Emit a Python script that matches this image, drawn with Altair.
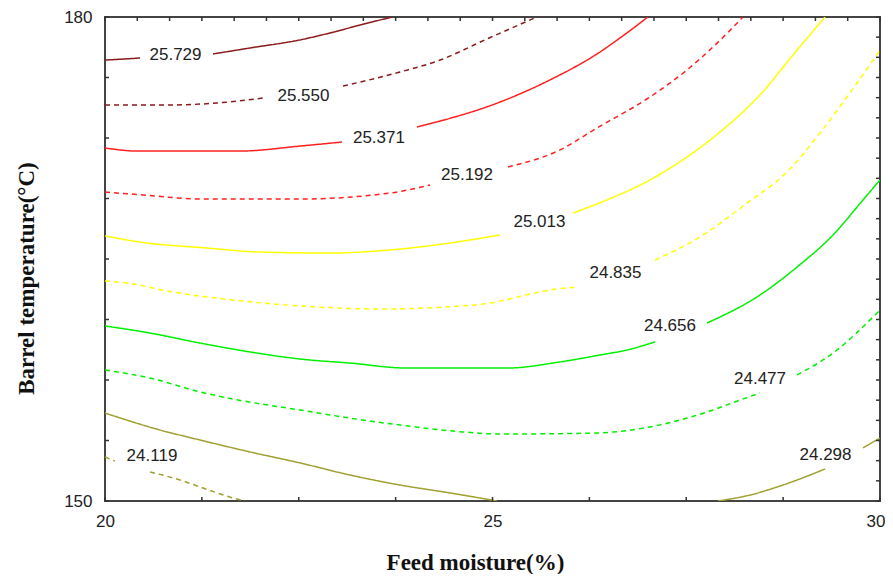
import altair as alt
import pandas as pd

# ---- contour levels, colours, styles ----
levels = ["25.729", "25.550", "25.371", "25.192", "25.013",
          "24.835", "24.656", "24.477", "24.298", "24.119"]
level_colors = ["#8b1a1a", "#8b1a1a", "#ff1f1f", "#ff1f1f", "#ffff00",
                "#ffff00", "#00f000", "#00f000", "#a0a030", "#a0a030"]
level_styles = ["solid", "dashed", "solid", "dashed", "solid",
                "dashed", "solid", "dashed", "solid", "dashed"]

# ---- contour segments (x = feed moisture %, y = barrel temperature) ----
c25729_a_x = [20.0, 20.258, 20.452]
c25729_a_y = [177.33, 177.40, 177.46]
c25729_b_x = [21.394, 21.871, 22.516, 22.903, 23.290, 23.703]
c25729_b_y = [177.71, 178.08, 178.58, 179.01, 179.50, 180.0]

c25550_a_x = [20.0, 20.877, 21.445, 22.039]
c25550_a_y = [174.55, 174.55, 174.67, 174.98]
c25550_b_x = [23.071, 23.806, 24.323, 24.929, 25.574]
c25550_b_y = [175.72, 176.59, 177.33, 178.64, 180.0]

c25371_a_x = [20.0, 20.426, 21.742, 22.516, 23.058]
c25371_a_y = [171.88, 171.69, 171.69, 172.00, 172.25]
c25371_b_x = [24.026, 25.097, 25.742, 26.387, 26.645, 27.006]
c25371_b_y = [173.18, 174.73, 176.10, 177.83, 178.70, 180.0]

c25192_a_x = [20.0, 20.490, 21.226, 22.516, 23.677, 24.194]
c25192_a_y = [169.15, 168.97, 168.72, 168.72, 169.09, 169.59]
c25192_b_x = [25.2, 25.871, 26.348, 27.032, 27.510, 27.845, 28.232]
c25192_b_y = [170.70, 171.76, 173.12, 175.04, 176.72, 178.14, 180.0]

c25013_a_x = [20.0, 20.452, 21.316, 22.0, 22.903, 23.677, 24.452, 25.097]
c25013_a_y = [166.43, 166.05, 165.68, 165.43, 165.37, 165.56, 165.99, 166.49]
c25013_b_x = [26.039, 26.477, 27.032, 27.548, 27.935, 28.452, 28.877, 29.290]
c25013_b_y = [167.85, 168.66, 169.90, 171.45, 172.87, 175.17, 177.64, 180.0]

c24835_a_x = [20.0, 20.284, 20.877, 21.652, 22.516, 23.548, 24.361, 24.877, 25.832, 26.090]
c24835_a_y = [163.64, 163.51, 162.95, 162.46, 162.09, 161.90, 162.02, 162.21, 163.14, 163.26]
c24835_b_x = [27.097, 27.677, 28.284, 28.8, 29.226, 29.703, 30.0]
c24835_b_y = [164.94, 166.36, 168.47, 170.39, 172.81, 175.91, 177.95]

c24656_a_x = [20.0, 20.581, 21.226, 21.871, 22.516, 23.161, 23.897, 25.187, 25.871, 26.387, 26.735, 27.097]
c24656_a_y = [160.85, 160.41, 159.79, 159.24, 158.80, 158.55, 158.24, 158.24, 158.62, 159.05, 159.36, 159.86]
c24656_b_x = [27.768, 28.452, 28.929, 29.394, 29.781, 30.0]
c24656_b_y = [161.03, 162.77, 164.50, 166.49, 168.66, 169.90]

c24477_a_x = [20.0, 20.581, 21.226, 21.652, 22.516, 23.161, 23.806, 24.619, 25.097, 26.297,
              27.032, 27.510, 27.845, 28.194, 28.452]
c24477_a_y = [158.12, 157.62, 156.76, 156.32, 155.64, 155.14, 154.71, 154.28, 154.15, 154.21,
              154.59, 155.14, 155.64, 156.26, 156.69]
c24477_b_x = [28.929, 29.394, 30.0]
c24477_b_y = [157.81, 159.17, 161.84]

c24298_a_x = [20.0, 20.710, 21.226, 21.871, 22.516, 23.161, 23.806, 24.452, 25.058]
c24298_a_y = [155.45, 154.40, 153.78, 153.04, 152.36, 151.61, 150.99, 150.50, 150.0]
c24298_b_x = [27.910, 28.323, 28.748, 29.290]
c24298_b_y = [150.0, 150.37, 150.99, 151.98]
c24298_c_x = [29.781, 30.0]
c24298_c_y = [153.29, 153.90]

c24119_a_x = [20.0, 20.129]
c24119_a_y = [152.73, 152.48]
c24119_b_x = [20.581, 20.968, 21.226, 21.652, 21.806]
c24119_b_y = [151.80, 151.30, 150.87, 150.19, 150.0]

# ---- contour label positions ----
label_text = levels
label_x = [20.910, 22.561, 23.535, 24.671, 25.606, 26.587, 27.290, 28.452, 29.297, 20.606]
label_y = [177.65, 175.10, 172.53, 170.18, 167.32, 164.16, 160.82, 157.59, 152.85, 152.76]

# ---- axis ticks ----
x_label_values = [20, 25, 30]
y_label_values = [150, 180]
bottom_ticks = [20 + i * 1.25 for i in range(9)]
top_ticks = [20 + i * 10 / 24 for i in range(25)]
left_ticks = [150 + i * 3.75 for i in range(9)]
right_ticks = [150 + i * 1.25 for i in range(25)]

segments = [
    ("25.729", c25729_a_x, c25729_a_y), ("25.729", c25729_b_x, c25729_b_y),
    ("25.550", c25550_a_x, c25550_a_y), ("25.550", c25550_b_x, c25550_b_y),
    ("25.371", c25371_a_x, c25371_a_y), ("25.371", c25371_b_x, c25371_b_y),
    ("25.192", c25192_a_x, c25192_a_y), ("25.192", c25192_b_x, c25192_b_y),
    ("25.013", c25013_a_x, c25013_a_y), ("25.013", c25013_b_x, c25013_b_y),
    ("24.835", c24835_a_x, c24835_a_y), ("24.835", c24835_b_x, c24835_b_y),
    ("24.656", c24656_a_x, c24656_a_y), ("24.656", c24656_b_x, c24656_b_y),
    ("24.477", c24477_a_x, c24477_a_y), ("24.477", c24477_b_x, c24477_b_y),
    ("24.298", c24298_a_x, c24298_a_y), ("24.298", c24298_b_x, c24298_b_y),
    ("24.298", c24298_c_x, c24298_c_y),
    ("24.119", c24119_a_x, c24119_a_y), ("24.119", c24119_b_x, c24119_b_y),
]

rows = []
for s, (lev, xs, ys) in enumerate(segments):
    style = level_styles[levels.index(lev)]
    for i, (xv, yv) in enumerate(zip(xs, ys)):
        rows.append({"x": xv, "y": yv, "level": lev, "style": style, "seg": s, "i": i})
df = pd.DataFrame(rows)
labels_df = pd.DataFrame({"x": label_x, "y": label_y, "t": label_text})

W, H = 775, 484
xscale = alt.Scale(domain=[20, 30], nice=False, zero=False)
yscale = alt.Scale(domain=[150, 180], nice=False, zero=False)

x_axis = alt.Axis(values=x_label_values, title="Feed moisture(%)", labelFlush=False,
                  labelAlign={"condition": {"test": "datum.value == 30", "value": "right"},
                              "value": "center"},
                  labelOffset={"condition": {"test": "datum.value == 30", "value": 5},
                               "value": 0},
                  labelPadding=12, titleX=370, titleY=68, titleAlign="center",
                  titleBaseline="alphabetic", format="d")
y_axis = alt.Axis(values=y_label_values, title="Barrel temperature(°C)", labelFlush=False,
                  labelPadding=13, titleX=-72, titleY=261, titleAngle=270,
                  titleAlign="center", titleBaseline="alphabetic", format="d")

lines = alt.Chart(df).mark_line(strokeWidth=1.5, clip=True, interpolate="monotone").encode(
    x=alt.X("x:Q", scale=xscale, axis=x_axis),
    y=alt.Y("y:Q", scale=yscale, axis=y_axis),
    color=alt.Color("level:N", scale=alt.Scale(domain=levels, range=level_colors), legend=None),
    strokeDash=alt.StrokeDash("style:N", scale=alt.Scale(domain=["solid", "dashed"],
                                                         range=[[1, 0], [5, 4]]), legend=None),
    detail="seg:N",
    order="i:Q",
)

texts = alt.Chart(labels_df).mark_text(font="Liberation Sans", fontSize=17, color="#222222",
                                       align="center", baseline="middle").encode(
    x=alt.X("x:Q", scale=xscale, axis=x_axis),
    y=alt.Y("y:Q", scale=yscale, axis=y_axis),
    text="t:N",
)

tick_color = "#333333"
bt = alt.Chart(pd.DataFrame({"x": bottom_ticks})).mark_rule(color=tick_color, strokeWidth=1.5).encode(
    x=alt.X("x:Q", scale=xscale, axis=x_axis), y=alt.value(H), y2=alt.value(H - 4))
tt = alt.Chart(pd.DataFrame({"x": top_ticks})).mark_rule(color=tick_color, strokeWidth=1.5).encode(
    x=alt.X("x:Q", scale=xscale, axis=x_axis), y=alt.value(0), y2=alt.value(4))
lt = alt.Chart(pd.DataFrame({"y": left_ticks})).mark_rule(color=tick_color, strokeWidth=1.5).encode(
    y=alt.Y("y:Q", scale=yscale, axis=y_axis), x=alt.value(0), x2=alt.value(4))
rt = alt.Chart(pd.DataFrame({"y": right_ticks})).mark_rule(color=tick_color, strokeWidth=1.5).encode(
    y=alt.Y("y:Q", scale=yscale, axis=y_axis), x=alt.value(W), x2=alt.value(W - 4))

chart = alt.layer(lines, texts, bt, tt, lt, rt).properties(
    width=W, height=H,
    autosize=alt.AutoSizeParams(type="none"),
    padding={"left": 97, "top": 9, "right": 5, "bottom": 73},
    background="white",
).configure_view(
    stroke="#444444", strokeWidth=2
).configure_axis(
    domain=False, ticks=False, grid=False,
    labelFont="Liberation Sans", labelFontSize=17, labelColor="#222222",
    titleFont="Liberation Serif", titleFontSize=23, titleFontWeight="bold", titleColor="#111111",
)

chart.save("out.html", embed_options={"renderer": "svg", "actions": False})
